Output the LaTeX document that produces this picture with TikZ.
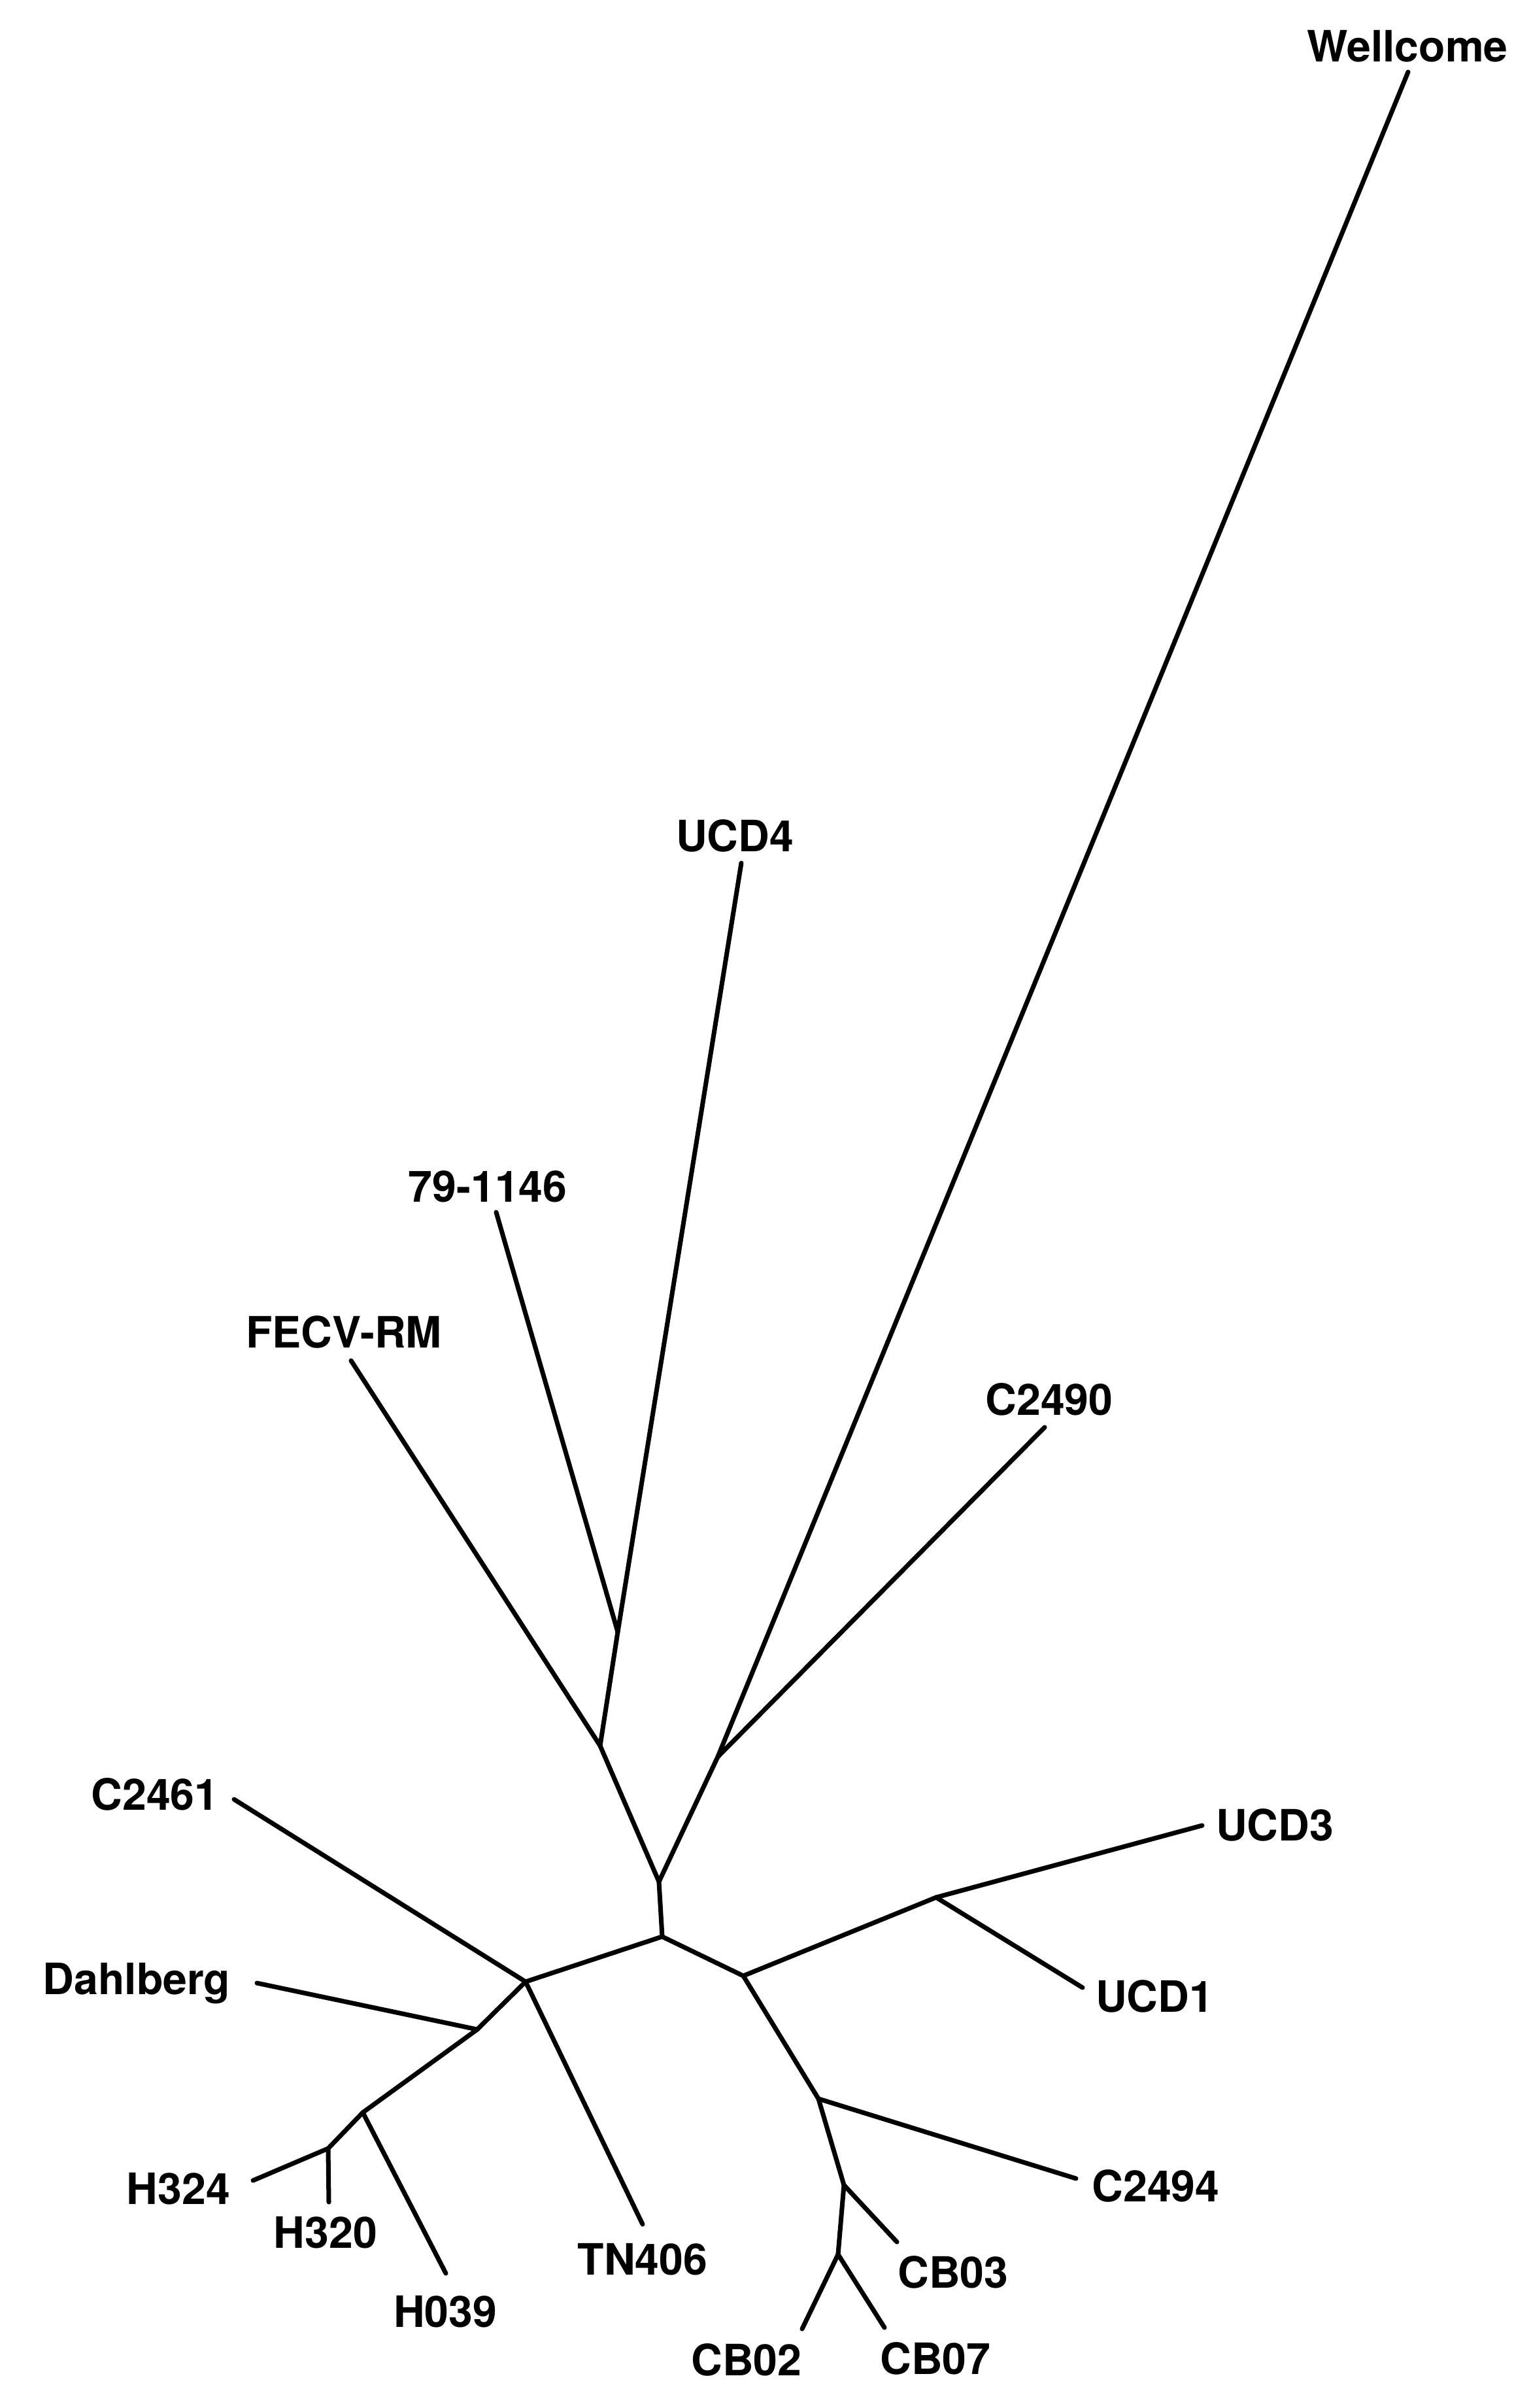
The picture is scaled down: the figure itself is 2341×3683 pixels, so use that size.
\documentclass[tikz,border=0pt]{standalone}
\usepackage{fontspec}
\setmainfont{TeX Gyre Heros}
\begin{document}
\begin{tikzpicture}[x=0.01cm, y=-0.01cm]
\useasboundingbox (0,0) rectangle (2341,3683);
\begin{scope}[every node/.style = {font=\fontsize{18.8}{22}\selectfont\bfseries, inner sep=0pt, text height=13.5pt, text depth=0pt}]
\node (Wel) at (2153, 71) {Wellcome};
\node (UCD4) at (1124, 1279) {UCD4};
\node (S79) at (746, 1815) {79-1146};
\node (FECV) at (526, 2038) {FECV-RM};
\node (C2490) at (1605, 2141) {C2490};
\node (C2461) at (237, 2745) {C2461};
\node (Dah) at (209, 3027) {Dahlberg};
\node (UCD3) at (1950, 2792) {UCD3};
\node (UCD1) at (1766, 3054) {UCD1};
\node (H324) at (273, 3348) {H324};
\node (H320) at (498, 3415) {H320};
\node (H039) at (681, 3536) {H039};
\node (TN406) at (983, 3456) {TN406};
\node (C2494) at (1768, 3344) {C2494};
\node (CB03) at (1458, 3476) {CB03};
\node (CB02) at (1142, 3610) {CB02};
\node (CB07) at (1431, 3608) {CB07};
\end{scope}
% branch points
\coordinate (n0) at (1013, 2962);
\coordinate (nT) at (1008, 2878);
\coordinate (nL) at (918, 2670);
\coordinate (nU) at (945, 2496);
\coordinate (nR) at (1098, 2687);
\coordinate (nA) at (804, 3031);
\coordinate (nD) at (730, 3104);
\coordinate (nH) at (555, 3231);
\coordinate (nH2) at (502, 3286);
\coordinate (nB) at (1137, 3022);
\coordinate (nUCD) at (1432, 2902);
\coordinate (nC) at (1252, 3210);
\coordinate (nCB) at (1291, 3342);
\coordinate (nCB2) at (1282, 3448);
% leaf ends
\coordinate (tWel) at (2154, 110);
\coordinate (tUCD4) at (1134, 1320);
\coordinate (tS79) at (759, 1854);
\coordinate (tFECV) at (537, 2081);
\coordinate (tC2490) at (1598, 2183);
\coordinate (tC2461) at (358, 2752);
\coordinate (tDah) at (393, 3033);
\coordinate (tUCD3) at (1839, 2792);
\coordinate (tUCD1) at (1656, 3040);
\coordinate (tH324) at (387, 3335);
\coordinate (tH320) at (503, 3368);
\coordinate (tH039) at (682, 3477);
\coordinate (tTN406) at (983, 3402);
\coordinate (tC2494) at (1646, 3332);
\coordinate (tCB03) at (1372, 3429);
\coordinate (tCB02) at (1227, 3562);
\coordinate (tCB07) at (1353, 3560);
\begin{scope}[every edge/.style = {draw, line width=2pt, line cap=round, line join=round}]
\path (n0) edge (nT);
\path (nT) edge (nL);
\path (nT) edge (nR);
\path (nL) edge (nU);
\path (nL) edge (tFECV);
\path (nU) edge (tUCD4);
\path (nU) edge (tS79);
\path (nR) edge (tWel);
\path (nR) edge (tC2490);
\path (n0) edge (nA);
\path (nA) edge (tC2461);
\path (nA) edge (tTN406);
\path (nA) edge (nD);
\path (nD) edge (tDah);
\path (nD) edge (nH);
\path (nH) edge (tH039);
\path (nH) edge (nH2);
\path (nH2) edge (tH324);
\path (nH2) edge (tH320);
\path (n0) edge (nB);
\path (nB) edge (nUCD);
\path (nUCD) edge (tUCD3);
\path (nUCD) edge (tUCD1);
\path (nB) edge (nC);
\path (nC) edge (tC2494);
\path (nC) edge (nCB);
\path (nCB) edge (tCB03);
\path (nCB) edge (nCB2);
\path (nCB2) edge (tCB02);
\path (nCB2) edge (tCB07);
\end{scope}
\end{tikzpicture}
\end{document}
